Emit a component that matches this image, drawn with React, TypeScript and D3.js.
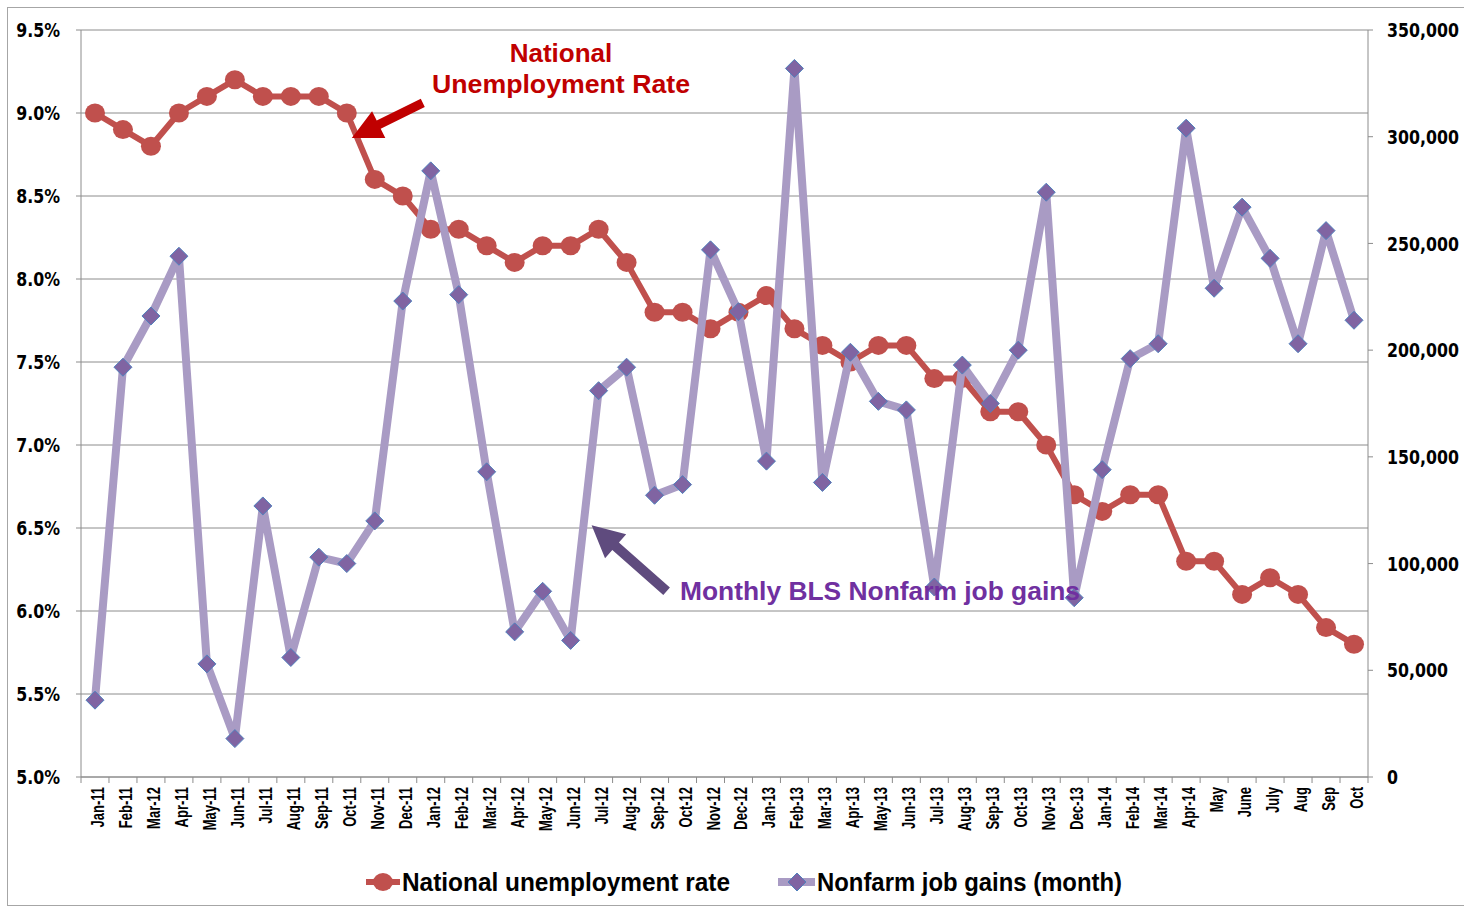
import * as d3 from "d3";

// categories as printed on the chart (the "Mar-12" typo is in the original)
const months = [
  "Jan-11", "Feb-11", "Mar-12", "Apr-11", "May-11", "Jun-11", "Jul-11", "Aug-11", "Sep-11", "Oct-11",
  "Nov-11", "Dec-11", "Jan-12", "Feb-12", "Mar-12 ", "Apr-12", "May-12", "Jun-12", "Jul-12", "Aug-12",
  "Sep-12", "Oct-12", "Nov-12", "Dec-12", "Jan-13", "Feb-13", "Mar-13", "Apr-13", "May-13", "Jun-13",
  "Jul-13", "Aug-13", "Sep-13", "Oct-13", "Nov-13", "Dec-13", "Jan-14", "Feb-14", "Mar-14", "Apr-14",
  "May", "June", "July", "Aug", "Sep", "Oct",
];

const unemploymentRate = [
  9.0, 8.9, 8.8, 9.0, 9.1, 9.2, 9.1, 9.1, 9.1, 9.0,
  8.6, 8.5, 8.3, 8.3, 8.2, 8.1, 8.2, 8.2, 8.3, 8.1,
  7.8, 7.8, 7.7, 7.8, 7.9, 7.7, 7.6, 7.5, 7.6, 7.6,
  7.4, 7.4, 7.2, 7.2, 7.0, 6.7, 6.6, 6.7, 6.7, 6.3,
  6.3, 6.1, 6.2, 6.1, 5.9, 5.8,
];

const jobGains = [
  36000, 192000, 216000, 244000, 53000, 18000, 127000, 56000, 103000, 100000,
  120000, 223000, 284000, 226000, 143000, 68000, 87000, 64000, 181000, 192000,
  132000, 137000, 247000, 218000, 148000, 332000, 138000, 199000, 176000, 172000,
  89000, 193000, 175000, 200000, 274000, 84000, 144000, 196000, 203000, 304000,
  229000, 267000, 243000, 203000, 256000, 214000,
];

const rateTicks = [5.0, 5.5, 6.0, 6.5, 7.0, 7.5, 8.0, 8.5, 9.0, 9.5];
const jobTicks = [0, 50000, 100000, 150000, 200000, 250000, 300000, 350000];

const W = 1464;
const H = 908;
const plot = { left: 81, right: 1368, top: 30, bottom: 777 };

const RED = "#C0504D";
const PURPLE_LINE = "#A99BC4";
const PURPLE_MARK = "#8064A2";
const GRID = "#8C8C8C";

const arrow = (x1: number, y1: number, x2: number, y2: number, shaft: number, headLen: number, headW: number) => {
  const dx = x2 - x1, dy = y2 - y1;
  const len = Math.hypot(dx, dy);
  const ux = dx / len, uy = dy / len;
  const px = -uy, py = ux;
  const bx = x2 - ux * headLen, by = y2 - uy * headLen;
  const pts = [
    [x1 + px * shaft / 2, y1 + py * shaft / 2],
    [bx + px * shaft / 2, by + py * shaft / 2],
    [bx + px * headW / 2, by + py * headW / 2],
    [x2, y2],
    [bx - px * headW / 2, by - py * headW / 2],
    [bx - px * shaft / 2, by - py * shaft / 2],
    [x1 - px * shaft / 2, y1 - py * shaft / 2],
  ];
  return "M" + pts.map(p => p.join(",")).join("L") + "Z";
};

export default function App() {
  const x = d3.scaleBand<string>().domain(months).range([plot.left, plot.right]);
  const bw = x.bandwidth();
  const cx = (m: string) => (x(m) ?? 0) + bw / 2;
  const yRate = d3.scaleLinear().domain([5, 9.5]).range([plot.bottom, plot.top]);
  const yJobs = d3.scaleLinear().domain([0, 350000]).range([plot.bottom, plot.top]);

  const rateLine = d3.line<number>()
    .x((_, i) => cx(months[i]))
    .y(d => yRate(d));
  const jobLine = d3.line<number>()
    .x((_, i) => cx(months[i]))
    .y(d => yJobs(d));

  const fmtRate = (v: number) => d3.format(".1f")(v) + "%";
  const fmtJobs = d3.format(",");

  const boundaries = d3.range(months.length + 1).map(i => plot.left + i * bw);
  const diamond = (s: number) => `M0,${-s}L${s},0L0,${s}L${-s},0Z`;

  // annotation arrows anchored near the data they point at
  const redTip: [number, number] = [cx("Oct-11") + 5, yRate(8.85)];
  const purpleTip: [number, number] = [cx("Jul-12") - 7, yJobs(118000)];

  const tickFont = "'DejaVu Sans', Verdana, sans-serif";
  const arial = "'Liberation Sans', Arial, sans-serif";

  return (
    <svg width={W} height={H} style={{ position: "absolute", left: 0, top: 0, background: "#fff" }}>
      <rect x={7.5} y={7.5} width={W} height={898} fill="#fff" stroke="#A6A6A6" strokeWidth={1} />

      {/* gridlines */}
      {rateTicks.map(t => (
        <line key={"g" + t} x1={plot.left} x2={plot.right} y1={yRate(t)} y2={yRate(t)} stroke={GRID} strokeWidth={1} />
      ))}

      {/* axes */}
      <line x1={plot.left} x2={plot.left} y1={plot.top} y2={plot.bottom} stroke={GRID} />
      <line x1={plot.right} x2={plot.right} y1={plot.top} y2={plot.bottom} stroke={GRID} />
      <line x1={plot.left} x2={plot.right} y1={plot.bottom} y2={plot.bottom} stroke={GRID} />
      {rateTicks.map(t => (
        <line key={"lt" + t} x1={plot.left - 5} x2={plot.left} y1={yRate(t)} y2={yRate(t)} stroke={GRID} />
      ))}
      {jobTicks.map(t => (
        <line key={"rt" + t} x1={plot.right} x2={plot.right + 5} y1={yJobs(t)} y2={yJobs(t)} stroke={GRID} />
      ))}
      {boundaries.map((b, i) => (
        <line key={"xt" + i} x1={b} x2={b} y1={plot.bottom} y2={plot.bottom + 6} stroke={GRID} />
      ))}

      {/* tick labels */}
      {rateTicks.map(t => (
        <g key={"ll" + t} transform={`translate(60,${yRate(t)}) scale(1,1.25)`}>
          <text textAnchor="end" dy="0.36em" fontFamily={tickFont} fontWeight="bold" fontSize={15.8} fill="#000">
            {fmtRate(t)}
          </text>
        </g>
      ))}
      {jobTicks.map(t => (
        <g key={"rl" + t} transform={`translate(1387,${yJobs(t)}) scale(1,1.25)`}>
          <text textAnchor="start" dy="0.36em" fontFamily={tickFont} fontWeight="bold" fontSize={15.8} fill="#000">
            {fmtJobs(t)}
          </text>
        </g>
      ))}
      {months.map(m => (
        <g key={"xl" + m} transform={`translate(${cx(m) + 9},${plot.bottom + 10}) rotate(-90) scale(1,1.35)`}>
          <text textAnchor="end" fontFamily={arial} fontWeight="bold" fontSize={13} fill="#000">
            {m.trim()}
          </text>
        </g>
      ))}

      {/* unemployment series */}
      <path d={rateLine(unemploymentRate) ?? ""} fill="none" stroke={RED} strokeWidth={6} strokeLinejoin="round" />
      {unemploymentRate.map((v, i) => (
        <ellipse key={"c" + i} cx={cx(months[i])} cy={yRate(v)} rx={10} ry={9.5} fill={RED} />
      ))}

      {/* job gains series */}
      <path d={jobLine(jobGains) ?? ""} fill="none" stroke={PURPLE_LINE} strokeWidth={8} strokeLinejoin="round" />
      {jobGains.map((v, i) => (
        <path key={"d" + i} d={diamond(9)} transform={`translate(${cx(months[i])},${yJobs(v)})`}
          fill={PURPLE_MARK} stroke="#4F81BD" strokeWidth={1} />
      ))}

      {/* annotations */}
      <path d={arrow(redTip[0] + 71, redTip[1] - 35, redTip[0], redTip[1], 9, 30, 30)} fill="#C00000" />
      <text x={561} y={62} textAnchor="middle" fontFamily={arial} fontWeight="bold" fontSize={26} fill="#C00000">National</text>
      <text x={561} y={93} textAnchor="middle" fontFamily={arial} fontWeight="bold" fontSize={26} fill="#C00000"
        textLength={258} lengthAdjust="spacingAndGlyphs">Unemployment Rate</text>

      <path d={arrow(purpleTip[0] + 75, purpleTip[1] + 66, purpleTip[0], purpleTip[1], 10, 32, 32)} fill="#5F4B7E" />
      <text x={680} y={600} fontFamily={arial} fontWeight="bold" fontSize={26} fill="#7030A0"
        textLength={400} lengthAdjust="spacingAndGlyphs">Monthly BLS Nonfarm job gains</text>

      {/* legend */}
      <line x1={366} x2={400} y1={882} y2={882} stroke={RED} strokeWidth={6} />
      <ellipse cx={383} cy={882} rx={10} ry={9} fill={RED} />
      <text x={402} y={891} fontFamily="'Liberation Sans Narrow', 'Liberation Sans', sans-serif" fontWeight="bold"
        fontSize={26} fill="#000" textLength={328} lengthAdjust="spacingAndGlyphs">National unemployment rate</text>

      <line x1={778} x2={815} y1={882} y2={882} stroke={PURPLE_LINE} strokeWidth={8} />
      <path d={diamond(9)} transform="translate(797,882)" fill={PURPLE_MARK} stroke="#4F81BD" strokeWidth={1} />
      <text x={817} y={891} fontFamily="'Liberation Sans Narrow', 'Liberation Sans', sans-serif" fontWeight="bold"
        fontSize={26} fill="#000" textLength={305} lengthAdjust="spacingAndGlyphs">Nonfarm job gains (month)</text>
    </svg>
  );
}
